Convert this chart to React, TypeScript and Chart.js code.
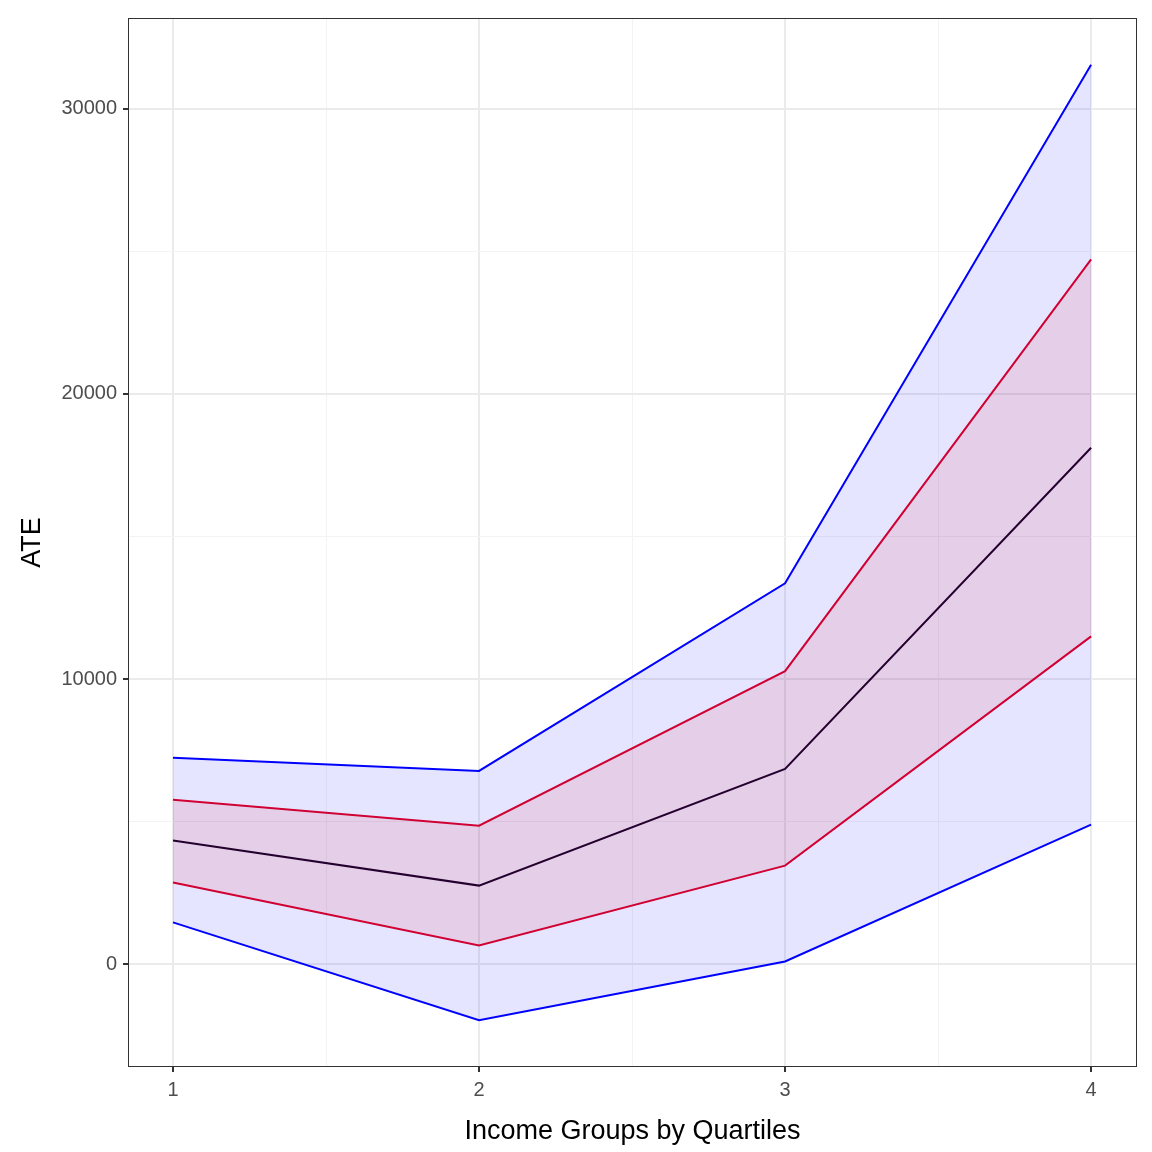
import React, { useEffect, useRef } from "react";
import { Chart, registerables } from "chart.js";
Chart.register(...registerables);

const quartiles = [1, 2, 3, 4];
const upper95 = [7240, 6780, 13360, 31540];
const upper68 = [5770, 4860, 10280, 24720];
const ate = [4340, 2760, 6850, 18110];
const lower68 = [2870, 660, 3460, 11500];
const lower95 = [1470, -1960, 100, 4900];
const yTicks = [-0, 5000, 10000, 15000, 20000, 25000, 30000];
const xTicks = [1, 1.5, 2, 2.5, 3, 3.5, 4];

const pts = (v: number[]) => v.map((y, i) => ({ x: quartiles[i], y }));

const frame = {
  id: "frame",
  afterDraw(c: any) {
    const a = c.chartArea, ctx = c.ctx;
    ctx.save();
    ctx.strokeStyle = "#333";
    ctx.lineWidth = 1;
    ctx.strokeRect(a.left + 0.5, a.top + 0.5, a.right - a.left - 1, a.bottom - a.top - 1);
    ctx.restore();
  },
};

export default function App() {
  const ref = useRef<HTMLCanvasElement>(null);
  useEffect(() => {
    const chart = new Chart(ref.current!, {
      type: "line",
      data: {
        datasets: [
          { data: pts(lower95), borderColor: "#0000ff", borderWidth: 2, pointRadius: 0, fill: false },
          { data: pts(upper95), borderColor: "#0000ff", borderWidth: 2, pointRadius: 0, fill: "-1", backgroundColor: "rgba(0,0,255,0.1)" },
          { data: pts(lower68), borderColor: "#e8001c", borderWidth: 2, pointRadius: 0, fill: false },
          { data: pts(upper68), borderColor: "#e8001c", borderWidth: 2, pointRadius: 0, fill: "-1", backgroundColor: "rgba(255,0,0,0.1)" },
          { data: pts(ate), borderColor: "#10001a", borderWidth: 2, pointRadius: 0, fill: false },
        ],
      },
      options: {
        animation: false,
        responsive: false,
        layout: { padding: { top: 15, right: 15, left: 12, bottom: 0 } },
        plugins: { legend: { display: false }, tooltip: { enabled: false } },
        scales: {
          x: {
            type: "linear", min: 0.853, max: 4.15,
            afterBuildTicks: (s: any) => { s.ticks = xTicks.map((v) => ({ value: v })); },
            afterFit: (s: any) => { s.height = 85; },
            border: { display: false },
            grid: {
              color: (c: any) => (Number.isInteger(c.tick?.value) ? "#ebebeb" : "#f3f3f3"),
              lineWidth: (c: any) => (Number.isInteger(c.tick?.value) ? 2 : 1),
              tickColor: (c: any) => (Number.isInteger(c.tick?.value) ? "#333" : "rgba(0,0,0,0)"),
              tickLength: 5, drawTicks: true,
            },
            ticks: {
              autoSkip: false, maxRotation: 0, padding: 6, color: "#4d4d4d", font: { family: "Liberation Sans", size: 20 },
              callback: (v: any) => (Number.isInteger(v) ? String(v) : ""),
            },
            title: { display: true, text: "Income Groups by Quartiles", color: "#000", font: { family: "Liberation Sans", size: 27 }, padding: { top: 0 } },
          },
          y: {
            min: -3600, max: 33180,
            afterBuildTicks: (s: any) => { s.ticks = yTicks.map((v) => ({ value: v })); },
            afterFit: (s: any) => { s.width = 116; },
            border: { display: false },
            grid: {
              color: (c: any) => (c.tick?.value % 10000 === 0 ? "#ebebeb" : "#f3f3f3"),
              lineWidth: (c: any) => (c.tick?.value % 10000 === 0 ? 2 : 1),
              tickColor: (c: any) => (c.tick?.value % 10000 === 0 ? "#333" : "rgba(0,0,0,0)"),
              tickLength: 5,
            },
            ticks: {
              autoSkip: false, padding: 6, color: "#4d4d4d", font: { family: "Liberation Sans", size: 20 },
              callback: (v: any) => (Number(v) % 10000 === 0 ? String(Math.abs(Number(v))) : ""),
            },
            title: { display: true, text: "ATE", color: "#000", font: { family: "Liberation Sans", size: 27 } },
          },
        },
      },
      plugins: [frame],
    } as any);
    return () => chart.destroy();
  }, []);
  return (
    <div style={{ position: "fixed", left: 0, top: 0, width: 1152, height: 1152, background: "#fff" }}>
      <canvas ref={ref} width={1152} height={1152} />
    </div>
  );
}
